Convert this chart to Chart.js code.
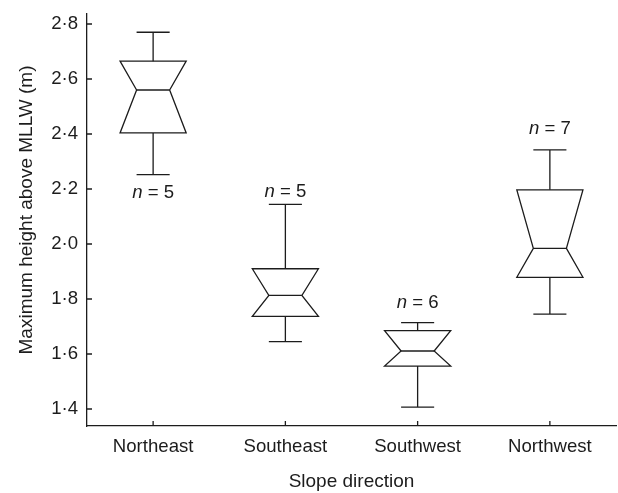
<!DOCTYPE html>
<html>
<head>
<meta charset="utf-8">
<script src="https://cdn.jsdelivr.net/npm/chart.js@4.4.1/dist/chart.umd.min.js"></script>
<style>
  html, body { margin: 0; padding: 0; background: #fff; }
  #wrap { width: 618px; height: 493px; }
</style>
</head>
<body>
<div id="wrap"><canvas id="chart" width="618" height="493"></canvas></div>
<script>
// Maximum height above MLLW (m) by slope direction
const directions    = ['Northeast', 'Southeast', 'Southwest', 'Northwest'];
const whiskerLow    = [2.252, 1.645, 1.407, 1.745];
const lowerQuartile = [2.404, 1.737, 1.556, 1.879];
const medians       = [2.560, 1.813, 1.611, 1.984];
const upperQuartile = [2.665, 1.910, 1.685, 2.197];
const whiskerHigh   = [2.770, 2.144, 1.714, 2.342];
const sampleSizes   = [5, 5, 6, 7];
const countLabelAt  = [2.185, 2.190, 1.785, 2.418];   // height of each "n = …" note
const yTicks        = [1.4, 1.6, 1.8, 2.0, 2.2, 2.4, 2.6, 2.8];

const INK = '#1c1c1c';
const FONT_FAMILY = '"Liberation Sans", Arial, Helvetica, sans-serif';
const FONT_SIZE = 18.6;
const TITLE_SIZE = 19;

const fmt = v => v.toFixed(1).replace('.', '\u00B7');

// Notched boxes, whiskers, inward tick marks, counts and the vertical axis title
const notchedBoxes = {
  id: 'notchedBoxes',
  afterDatasetsDraw(chart) {
    const { ctx, chartArea, scales: { x, y } } = chart;
    const step = x.getPixelForValue(1) - x.getPixelForValue(0);
    const half = step * 0.25;
    const notch = half * 0.5;

    ctx.save();
    ctx.strokeStyle = INK;
    ctx.fillStyle = INK;
    ctx.lineWidth = 1.3;
    ctx.lineJoin = 'miter';

    directions.forEach((_, i) => {
      const cx = x.getPixelForValue(i);
      const yLo = y.getPixelForValue(whiskerLow[i]);
      const yQ1 = y.getPixelForValue(lowerQuartile[i]);
      const yMd = y.getPixelForValue(medians[i]);
      const yQ3 = y.getPixelForValue(upperQuartile[i]);
      const yHi = y.getPixelForValue(whiskerHigh[i]);

      // whiskers and caps
      ctx.beginPath();
      ctx.moveTo(cx, yQ3); ctx.lineTo(cx, yHi);
      ctx.moveTo(cx - notch, yHi); ctx.lineTo(cx + notch, yHi);
      ctx.moveTo(cx, yQ1); ctx.lineTo(cx, yLo);
      ctx.moveTo(cx - notch, yLo); ctx.lineTo(cx + notch, yLo);
      ctx.stroke();

      // notched box
      ctx.beginPath();
      ctx.moveTo(cx - half, yQ3);
      ctx.lineTo(cx + half, yQ3);
      ctx.lineTo(cx + notch, yMd);
      ctx.lineTo(cx + half, yQ1);
      ctx.lineTo(cx - half, yQ1);
      ctx.lineTo(cx - notch, yMd);
      ctx.closePath();
      ctx.stroke();

      // median
      ctx.beginPath();
      ctx.moveTo(cx - notch, yMd); ctx.lineTo(cx + notch, yMd);
      ctx.stroke();

      // sample size
      const ly = y.getPixelForValue(countLabelAt[i]);
      ctx.textBaseline = 'middle';
      ctx.textAlign = 'left';
      ctx.font = `italic ${FONT_SIZE}px ${FONT_FAMILY}`;
      const wN = ctx.measureText('n').width;
      ctx.font = `${FONT_SIZE}px ${FONT_FAMILY}`;
      const rest = ' = ' + sampleSizes[i];
      const wR = ctx.measureText(rest).width;
      const x0 = cx - (wN + wR) / 2;
      ctx.font = `italic ${FONT_SIZE}px ${FONT_FAMILY}`;
      ctx.fillText('n', x0, ly);
      ctx.font = `${FONT_SIZE}px ${FONT_FAMILY}`;
      ctx.fillText(rest, x0 + wN, ly);
    });

    // tick marks pointing into the plot
    ctx.beginPath();
    yTicks.forEach(v => {
      const py = y.getPixelForValue(v);
      ctx.moveTo(chartArea.left, py); ctx.lineTo(chartArea.left + 5, py);
    });
    directions.forEach((_, i) => {
      const px = x.getPixelForValue(i);
      ctx.moveTo(px, chartArea.bottom); ctx.lineTo(px, chartArea.bottom - 5);
    });
    ctx.stroke();

    // vertical axis title
    ctx.translate(27, 210);
    ctx.rotate(-Math.PI / 2);
    ctx.textAlign = 'center';
    ctx.textBaseline = 'middle';
    ctx.font = `${TITLE_SIZE}px ${FONT_FAMILY}`;
    ctx.fillText('Maximum height above MLLW (m)', 0, 0);
    ctx.restore();
  }
};

new Chart(document.getElementById('chart'), {
  type: 'bar',
  data: {
    labels: directions,
    datasets: [{
      data: directions.map((_, i) => [whiskerLow[i], whiskerHigh[i]]),
      backgroundColor: 'rgba(0,0,0,0)',
      borderWidth: 0
    }]
  },
  options: {
    responsive: false,
    devicePixelRatio: 1,
    animation: false,
    layout: { padding: { top: 14, right: 2, left: 0, bottom: 0 } },
    plugins: { legend: { display: false }, tooltip: { enabled: false } },
    scales: {
      x: {
        type: 'category',
        offset: true,
        grid: { display: false, drawTicks: false },
        border: { display: true, color: INK, width: 1.3 },
        ticks: {
          color: INK,
          padding: 10,
          maxRotation: 0,
          font: { family: FONT_FAMILY, size: FONT_SIZE }
        },
        title: {
          display: true,
          text: 'Slope direction',
          color: INK,
          padding: { top: 0, bottom: 0 },
          font: { family: FONT_FAMILY, size: TITLE_SIZE }
        },
        afterFit: s => { s.height = 67; s.paddingLeft = 0; s.paddingRight = 0; }
      },
      y: {
        type: 'linear',
        min: 1.3382,
        max: 2.8364,
        grid: { display: false, drawTicks: false },
        border: { display: true, color: INK, width: 1.3 },
        ticks: {
          color: INK,
          padding: 9,
          includeBounds: false,
          font: { family: FONT_FAMILY, size: FONT_SIZE },
          callback: v => fmt(v)
        },
        afterBuildTicks: s => { s.ticks = yTicks.map(v => ({ value: v })); },
        afterFit: s => { s.width = 87; s.paddingTop = 0; s.paddingBottom = 0; }
      }
    }
  },
  plugins: [notchedBoxes]
});
</script>
</body>
</html>
